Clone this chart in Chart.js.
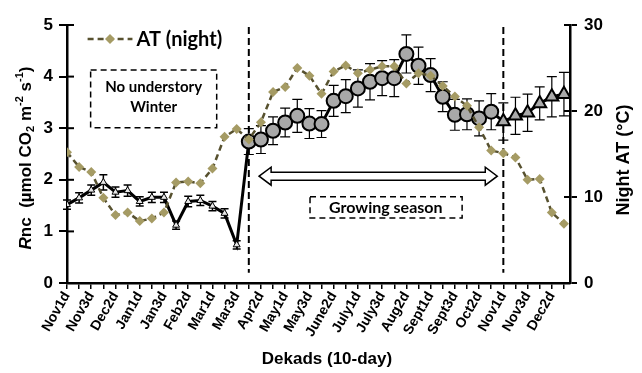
<!DOCTYPE html>
<html>
<head>
<meta charset="utf-8">
<script src="https://cdn.jsdelivr.net/npm/chart.js@4"></script>
<style>
  html, body { margin: 0; padding: 0; background: #fff; }
  #wrap { width: 642px; height: 373px; }
</style>
</head>
<body>
<div id="wrap"><canvas id="c" width="642" height="373"></canvas></div>
<script>
// dekads, Nov -> Dec of the next year
const dekads = [
  "Nov1d", "Nov2d", "Nov3d", "Dec1d", "Dec2d", "Dec3d", "Jan1d", "Jan2d", "Jan3d",
  "Feb1d", "Feb2d", "Feb3d", "Mar1d", "Mar2d", "Mar3d", "Apr1d", "Apr2d", "Apr3d",
  "May1d", "May2d", "May3d", "June1d", "June2d", "June3d", "July1d", "July2d", "July3d",
  "Aug1d", "Aug2d", "Aug3d", "Sept1d", "Sept2d", "Sept3d", "Oct1d", "Oct2d", "Oct3d",
  "Nov1d", "Nov2d", "Nov3d", "Dec1d", "Dec2d", "Dec3d"
];

// Rnc (umol CO2 m-2 s-1), left axis
const rnc = [
  1.52, 1.65, 1.80, 1.95, 1.76, 1.79, 1.58, 1.66, 1.66, 1.12, 1.58, 1.60, 1.49, 1.35, 0.74,
  2.74, 2.78, 2.95, 3.11, 3.24, 3.09, 3.08, 3.53, 3.62, 3.77, 3.90, 3.97, 3.97, 4.44, 4.21,
  4.03, 3.61, 3.26, 3.27, 3.19, 3.32,
  3.13, 3.24, 3.30, 3.48, 3.61, 3.66
];
const rncErr = [
  0.09, 0.10, 0.10, 0.15, 0.10, 0.11, 0.09, 0.10, 0.10, 0.08, 0.10, 0.10, 0.09, 0.09, 0.08,
  0.25, 0.27, 0.27, 0.28, 0.32, 0.29, 0.26, 0.30, 0.32, 0.36, 0.35, 0.34, 0.36, 0.37, 0.36,
  0.32, 0.29, 0.30, 0.30, 0.34, 0.35,
  0.36, 0.36, 0.36, 0.32, 0.39, 0.42
];

// night air temperature (degC), right axis
const atNight = [
  15.2, 13.5, 12.9, 9.9, 7.9, 8.2, 7.2, 7.5, 8.2, 11.7, 11.8, 11.6, 13.3, 17.0, 17.9,
  16.7, 18.7, 22.2, 22.8, 25.0, 24.1, 22.0, 24.6, 25.3, 24.4, 24.8, 25.2, 25.2, 23.2, 24.4,
  24.1, 22.9, 21.7, 20.6, 18.1, 15.4,
  15.1, 14.6, 12.0, 12.1, 8.2, 6.9
];

const leftTicks = [0, 1, 2, 3, 4, 5];
const rightTicks = [0, 10, 20, 30];
const seasonBreaks = [15, 36]; // Apr1d and Nov1d

const FONT = "'Liberation Sans', Arial, sans-serif";
const SOFT = "Lato, 'Open Sans', sans-serif";
const AT_LINE = "#57512f";
const AT_FILL = "#a59b64";

function phase(i) {
  if (i < 15) return "winter";
  if (i < 36) return "grow";
  return "late";
}

const rncStyle = dekads.map((d, i) => ({ winter: "triangle", grow: "circle", late: "triangle" })[phase(i)]);
const rncRadius = dekads.map((d, i) => phase(i) === "winter" ? 4 : (phase(i) === "late" ? 7.5 : 7));
const rncFill = dekads.map((d, i) => phase(i) === "winter" ? "#e8e8e8" : "#a9a9a9");
const rncBorderW = dekads.map((d, i) => phase(i) === "winter" ? 1 : 2);

function richText(ctx, parts, cx, cy, rot) {
  let total = 0;
  parts.forEach(p => { ctx.font = p.font; p.w = ctx.measureText(p.t).width; total += p.w; });
  ctx.save();
  ctx.translate(cx, cy);
  ctx.rotate(rot);
  ctx.textBaseline = "middle";
  ctx.textAlign = "left";
  ctx.fillStyle = "#000";
  let x = -total / 2;
  parts.forEach(p => { ctx.font = p.font; ctx.fillText(p.t, x, p.dy || 0); x += p.w; });
  ctx.restore();
}

function dashedRect(ctx, x1, y1, x2, y2) {
  ctx.save();
  ctx.setLineDash([6, 4]);
  ctx.lineWidth = 1.5;
  ctx.strokeStyle = "#000";
  ctx.strokeRect(x1, y1, x2 - x1, y2 - y1);
  ctx.restore();
}

const decor = {
  id: "decor",
  beforeDatasetsDraw(chart) {
    const { ctx, scales } = chart;
    const x = scales.x, y = scales.y;
    // season breaks
    ctx.save();
    ctx.setLineDash([7, 4]);
    ctx.lineWidth = 2;
    ctx.strokeStyle = "#000";
    seasonBreaks.forEach(v => {
      const px = x.getPixelForValue(v);
      ctx.beginPath();
      ctx.moveTo(px, y.getPixelForValue(4.96));
      ctx.lineTo(px, y.getPixelForValue(0.2));
      ctx.stroke();
    });
    ctx.restore();

    // error bars
    ctx.save();
    ctx.strokeStyle = "#000";
    rnc.forEach((v, i) => {
      const px = x.getPixelForValue(i);
      const top = y.getPixelForValue(v + rncErr[i]);
      const bot = y.getPixelForValue(v - rncErr[i]);
      const cap = phase(i) === "winter" ? 4 : 5;
      ctx.lineWidth = phase(i) === "winter" ? 1.5 : 1.2;
      ctx.beginPath();
      ctx.moveTo(px, top); ctx.lineTo(px, bot);
      ctx.moveTo(px - cap, top); ctx.lineTo(px + cap, top);
      ctx.moveTo(px - cap, bot); ctx.lineTo(px + cap, bot);
      ctx.stroke();
    });
    ctx.restore();
  },
  afterDraw(chart) {
    const { ctx, scales, chartArea } = chart;
    const x = scales.x, y = scales.y, y2 = scales.y2;

    // inner halves of the y tick marks
    ctx.save();
    ctx.strokeStyle = "#000";
    ctx.lineWidth = 2;
    leftTicks.forEach(v => {
      const py = y.getPixelForValue(v);
      ctx.beginPath(); ctx.moveTo(chartArea.left, py); ctx.lineTo(chartArea.left + 7, py); ctx.stroke();
    });
    rightTicks.forEach(v => {
      const py = y2.getPixelForValue(v);
      ctx.beginPath(); ctx.moveTo(chartArea.right - 6, py); ctx.lineTo(chartArea.right, py); ctx.stroke();
    });
    ctx.restore();

    // axis titles
    const b = "bold 17px " + FONT;
    const bi = "italic bold 17px " + FONT;
    const s = "bold 11px " + FONT;
    richText(ctx, [
      { t: "R", font: bi }, { t: "nc  (\u00b5mol CO", font: b }, { t: "2", font: s, dy: 5 },
      { t: " m", font: b }, { t: "-2", font: s, dy: -6 }, { t: " s", font: b }, { t: "-1", font: s, dy: -6 },
      { t: ")", font: b }
    ], 26, 158, -Math.PI / 2);
    richText(ctx, [{ t: "Night AT (\u00b0C)", font: "bold 18px " + FONT }], 624, 160, -Math.PI / 2);
    richText(ctx, [{ t: "Dekads (10-day)", font: "bold 17px " + FONT }], 327, 359, 0);

    // legend
    const ly = y.getPixelForValue(4.73);
    const lx1 = x.getPixelForValue(1.7), lx2 = x.getPixelForValue(5.4);
    ctx.save();
    ctx.strokeStyle = AT_LINE;
    ctx.lineWidth = 2.5;
    ctx.setLineDash([6, 4]);
    ctx.beginPath(); ctx.moveTo(lx1, ly); ctx.lineTo(lx2, ly); ctx.stroke();
    ctx.setLineDash([]);
    const dx = (lx1 + lx2) / 2;
    ctx.fillStyle = AT_FILL;
    ctx.beginPath();
    ctx.moveTo(dx, ly - 5); ctx.lineTo(dx + 5, ly); ctx.lineTo(dx, ly + 5); ctx.lineTo(dx - 5, ly);
    ctx.closePath(); ctx.fill();
    ctx.fillStyle = "#000";
    ctx.font = "bold 20px " + SOFT;
    ctx.textBaseline = "middle";
    ctx.fillText("AT (night)", lx2 + 4, ly + 1);
    ctx.restore();

    // winter box
    dashedRect(ctx, x.getPixelForValue(1.95), y.getPixelForValue(4.13), x.getPixelForValue(12.35), y.getPixelForValue(3.01));
    ctx.save();
    ctx.fillStyle = "#000";
    ctx.font = "bold 15px " + SOFT;
    ctx.textAlign = "center";
    ctx.textBaseline = "middle";
    const wx = x.getPixelForValue(7.15);
    ctx.fillText("No understory", wx, y.getPixelForValue(3.8));
    ctx.fillText("Winter", wx, y.getPixelForValue(3.41));
    ctx.restore();

    // growing season arrow
    const ax1 = x.getPixelForValue(15.85), ax2 = x.getPixelForValue(35.5);
    const ay = y.getPixelForValue(2.07);
    const hl = 12, hw = 9, sw = 4;
    ctx.save();
    ctx.fillStyle = "#fff";
    ctx.strokeStyle = "#000";
    ctx.lineWidth = 1.5;
    ctx.beginPath();
    ctx.moveTo(ax1, ay);
    ctx.lineTo(ax1 + hl, ay - hw);
    ctx.lineTo(ax1 + hl, ay - sw);
    ctx.lineTo(ax2 - hl, ay - sw);
    ctx.lineTo(ax2 - hl, ay - hw);
    ctx.lineTo(ax2, ay);
    ctx.lineTo(ax2 - hl, ay + hw);
    ctx.lineTo(ax2 - hl, ay + sw);
    ctx.lineTo(ax1 + hl, ay + sw);
    ctx.lineTo(ax1 + hl, ay + hw);
    ctx.closePath();
    ctx.fill(); ctx.stroke();
    ctx.restore();

    dashedRect(ctx, x.getPixelForValue(20.05), y.getPixelForValue(1.67), x.getPixelForValue(32.6), y.getPixelForValue(1.26));
    ctx.save();
    ctx.fillStyle = "#000";
    ctx.font = "bold 16px " + SOFT;
    ctx.textAlign = "center";
    ctx.textBaseline = "middle";
    ctx.fillText("Growing season", x.getPixelForValue(26.3), y.getPixelForValue(1.465));
    ctx.restore();
  }
};

const idx = dekads.map((d, i) => i);

new Chart(document.getElementById("c"), {
  type: "line",
  data: {
    datasets: [
      {
        label: "AT (night)",
        data: atNight.map((v, i) => ({ x: i, y: v })),
        yAxisID: "y2",
        borderColor: AT_LINE,
        borderWidth: 2.5,
        borderDash: [6, 4],
        pointStyle: "rectRot",
        pointRadius: 5,
        pointBackgroundColor: AT_FILL,
        pointBorderColor: AT_FILL,
        pointBorderWidth: 0,
        tension: 0
      },
      {
        label: "Rnc",
        data: rnc.map((v, i) => ({ x: i, y: v })),
        yAxisID: "y",
        borderColor: "#000",
        borderWidth: 3,
        pointStyle: rncStyle,
        pointRadius: rncRadius,
        pointBackgroundColor: rncFill,
        pointBorderColor: "#000",
        pointBorderWidth: rncBorderW,
        tension: 0
      }
    ]
  },
  options: {
    responsive: false,
    animation: false,
    layout: { padding: { top: 25, left: 0, right: 0, bottom: 0 } },
    plugins: { legend: { display: false }, tooltip: { enabled: false } },
    scales: {
      x: {
        type: "linear",
        min: 0,
        max: 41.5,
        afterBuildTicks: scale => { scale.ticks = idx.map(v => ({ value: v })); },
        afterFit: scale => { scale.height = 90; },
        border: { color: "#000", width: 2.5 },
        grid: { drawOnChartArea: false, color: "#000", lineWidth: 1.5, tickLength: 6 },
        ticks: {
          autoSkip: false,
          minRotation: 60,
          maxRotation: 60,
          padding: 0,
          color: "#000",
          font: { family: FONT, size: 14, weight: "bold" },
          callback: v => (v % 2 === 0 ? dekads[v] : "")
        }
      },
      y: {
        position: "left",
        min: 0,
        max: 5,
        afterBuildTicks: scale => { scale.ticks = leftTicks.map(v => ({ value: v })); },
        afterFit: scale => { scale.width = 67; },
        border: { color: "#000", width: 2.5 },
        grid: { drawOnChartArea: false, color: "#000", lineWidth: 2, tickLength: 8 },
        ticks: { padding: 6, color: "#000", font: { family: FONT, size: 17, weight: "bold" } }
      },
      y2: {
        position: "right",
        min: 0,
        max: 30,
        afterBuildTicks: scale => { scale.ticks = rightTicks.map(v => ({ value: v })); },
        afterFit: scale => { scale.width = 72; },
        border: { color: "#000", width: 2.5 },
        grid: { drawOnChartArea: false, color: "#000", lineWidth: 2, tickLength: 7 },
        ticks: { padding: 7, color: "#000", font: { family: FONT, size: 17, weight: "bold" } }
      }
    }
  },
  plugins: [decor]
});
</script>
</body>
</html>
